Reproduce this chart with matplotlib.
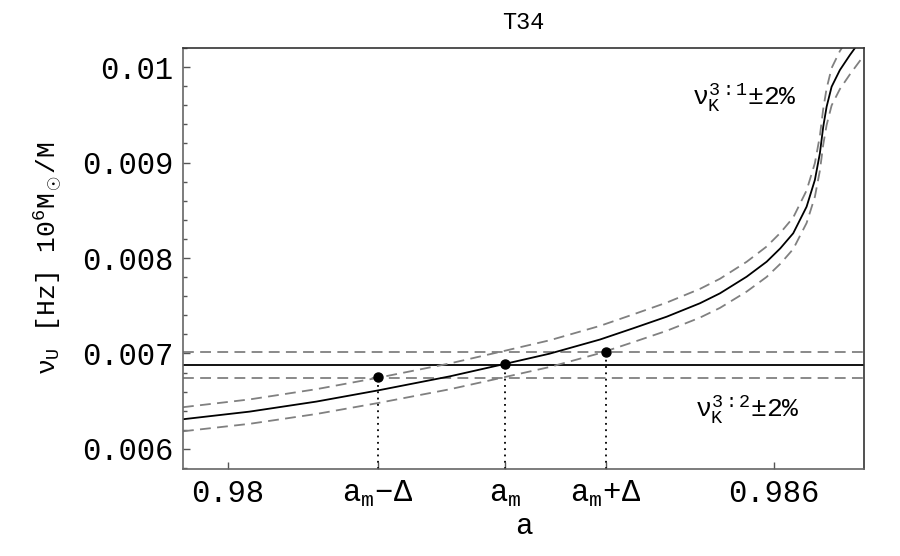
import numpy as np
import matplotlib.pyplot as plt

plt.rcParams['font.family'] = ['Liberation Mono', 'DejaVu Sans']
plt.rcParams['mathtext.fontset'] = 'custom'
plt.rcParams['mathtext.rm'] = 'Liberation Mono'
plt.rcParams['mathtext.it'] = 'Liberation Mono'
plt.rcParams['mathtext.bf'] = 'Liberation Mono'

# curve nu_K^{3:1}(a)
spin = [0.979505, 0.980238, 0.980971, 0.981648, 0.982436, 0.983040, 0.983535,
        0.984088, 0.984454, 0.984821, 0.985187, 0.985407, 0.985700, 0.985920,
        0.986070, 0.986212, 0.986359, 0.986450, 0.986505, 0.986542, 0.986579,
        0.986634, 0.986725, 0.986835, 0.986990]
nu31 = [0.006311, 0.006391, 0.006496, 0.006613, 0.006760, 0.006890, 0.006998,
        0.007146, 0.007264, 0.007385, 0.007526, 0.007630, 0.007804, 0.007961,
        0.008101, 0.008259, 0.008537, 0.008817, 0.009096, 0.009375, 0.009584,
        0.009794, 0.009969, 0.010126, 0.010330]

# nu_K^{3:2} is constant here
nu32 = 0.006883
band = 0.02

# marked spins
a_marks = [0.981645, 0.983041, 0.984154]
nu_marks = [0.006750, 0.006887, 0.007020]
a_labels = [r'$\mathrm{a_m\!-\!\Delta}$', r'$\mathrm{a_m}$', r'$\mathrm{a_m\!+\!\Delta}$']

xticks = [0.98, 0.986]
yticks = [0.006, 0.007, 0.008, 0.009, 0.01]

spin = np.array(spin)
nu31 = np.array(nu31)

fig = plt.figure(figsize=(9, 5.56), dpi=100)
ax = fig.add_axes([0.2033, 0.1565, 0.7567, 0.7572])

dash = (0, (6, 3.5))
grey = '#808080'

ax.axhline(nu32, color='black', lw=1.3)
ax.axhline(nu32 * (1 + band), color=grey, lw=1.3, ls=dash)
ax.axhline(nu32 * (1 - band), color=grey, lw=1.3, ls=dash)

ax.plot(spin, nu31, color='black', lw=1.3)
ax.plot(spin, nu31 * (1 + band), color=grey, lw=1.3, ls=dash)
ax.plot(spin, nu31 * (1 - band), color=grey, lw=1.3, ls=dash)

ylo = 0.00579
for a, v in zip(a_marks, nu_marks):
    ax.plot([a, a], [ylo, v], color='black', lw=1.3, ls=(0, (1, 2.5)))
ax.plot(a_marks, nu_marks, 'o', color='black', ms=6.5, zorder=5)

ax.text(0.98568, 0.009686, r'$\nu_\mathrm{K}^{3:1}$±2%', fontsize=19,
        ha='center', va='center')
ax.text(0.98571, 0.006408, r'$\nu_\mathrm{K}^{3:2}$±2%', fontsize=19,
        ha='center', va='center')

ax.set_xlim(0.979505, 0.98699)
ax.set_ylim(ylo, 0.0102)

ax.set_xticks(xticks + a_marks)
ax.set_xticklabels(['0.98', '0.986'] + a_labels)
ax.set_yticks(yticks)
ax.set_yticklabels(['0.006', '0.007', '0.008', '0.009', '0.01'])
ax.set_yticks(np.arange(0.0058, 0.01021, 0.0002), minor=True)

ax.tick_params(axis='both', which='major', direction='in', length=5,
               width=1, color='#555555', labelsize=22, pad=7)
ax.tick_params(axis='y', which='minor', direction='in', length=3,
               width=1, color='#555555')

for side in ['left', 'bottom']:
    ax.spines[side].set_color('#666666')
    ax.spines[side].set_linewidth(1.2)
for side in ['top', 'right']:
    ax.spines[side].set_color('#333333')
    ax.spines[side].set_linewidth(1.2)

ax.set_xlabel('a', fontsize=21, labelpad=2)
ax.set_ylabel(r'$\nu_\mathrm{U}$ [Hz] 10$^6$M$_\odot$/M', fontsize=19,
              labelpad=12)
ax.set_title('T34', fontsize=17, pad=14)

fig.savefig('out.png', dpi=100)
